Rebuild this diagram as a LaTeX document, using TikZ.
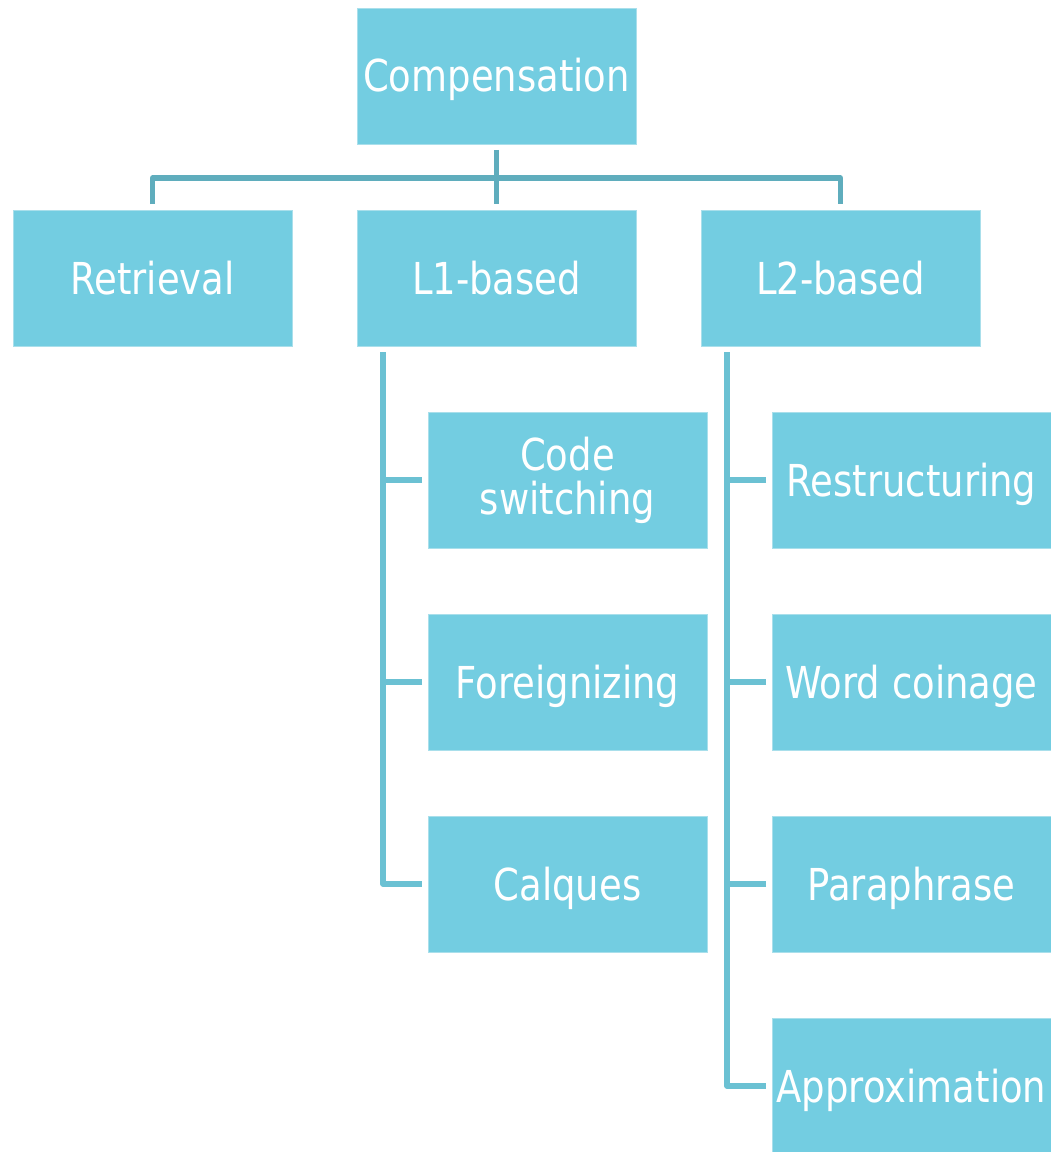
\documentclass[tikz,border=0pt]{standalone}
\usepackage{fontspec}
\setmainfont{DejaVu Sans}[FakeStretch=0.84]
\usepackage{tikz}

\definecolor{boxfill}{HTML}{73CDE1}
\definecolor{boxedge}{HTML}{A9DFEB}
\definecolor{topwire}{HTML}{5FADBD}
\definecolor{subwire}{HTML}{6BC1D3}

\tikzset{
  catbox/.style={rectangle, fill=boxfill, draw=boxedge, line width=0.6pt,
    minimum width=209.25pt, minimum height=102pt, inner sep=0pt, outer sep=4.5pt,
    text=white, align=center, text height=24pt, text depth=0pt,
    font=\fontsize{33}{33}\selectfont},
  topline/.style={draw=topwire, line width=4pt, line join=round},
  subline/.style={draw=subwire, line width=4pt, line join=round}
}

\begin{document}
\begin{tikzpicture}[x=0.75pt, y=-0.75pt]
  \useasboundingbox (0,0) rectangle (1050,1152);

  % top level
  \node[catbox] (comp) at (496.5,76) {Compensation};

  % second level
  \node[catbox] (retr) at (152.5,278) {Retrieval};
  \node[catbox] (lone) at (496.5,278) {L1-based};
  \node[catbox] (ltwo) at (840.5,278) {L2-based};

  % L1 strategies
  \node[catbox, text height=, text depth=] (cswitch) at (567.5,480) {Code\\switching};
  \node[catbox] (frgn) at (567.5,682) {Foreignizing};
  \node[catbox] (calq) at (567.5,884) {Calques};

  % L2 strategies
  \node[catbox] (restr) at (911.5,480) {Restructuring};
  \node[catbox] (coin) at (911.5,682) {Word coinage};
  \node[catbox] (para) at (911.5,884) {Paraphrase};
  \node[catbox] (approx) at (911.5,1086) {Approximation};

  % connectors
  \draw[topline] (retr.north) -- ++(0,-26) -| (ltwo.north);
  \draw[topline] (comp.south) -- (lone.north);

  \coordinate (lonebus) at ([xshift=24pt]lone.south west);
  \coordinate (ltwobus) at ([xshift=24pt]ltwo.south west);

  \draw[subline] (lonebus) |- (calq.west);
  \foreach \n in {cswitch,frgn}
    \draw[subline] (\n.west) -- (\n.west -| lonebus);

  \draw[subline] (ltwobus) |- (approx.west);
  \foreach \n in {restr,coin,para}
    \draw[subline] (\n.west) -- (\n.west -| ltwobus);
\end{tikzpicture}
\end{document}
